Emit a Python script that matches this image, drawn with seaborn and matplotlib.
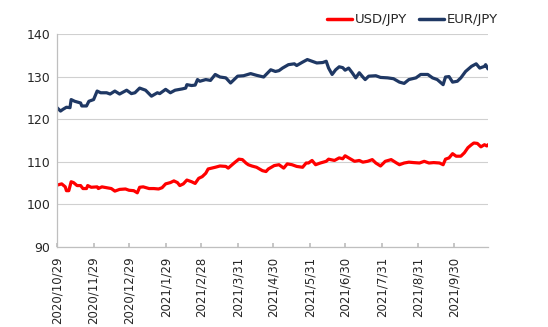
import matplotlib
matplotlib.use("Agg")
import matplotlib.pyplot as plt
import pandas as pd
import seaborn as sns
from matplotlib.lines import Line2D

eur_dates = ["2020-10-29","2020-11-01","2020-11-03","2020-11-06","2020-11-09","2020-11-10","2020-11-13","2020-11-18","2020-11-19","2020-11-23","2020-11-25","2020-11-29","2020-12-02","2020-12-05","2020-12-10","2020-12-13","2020-12-17","2020-12-21","2020-12-27","2020-12-31","2021-01-03","2021-01-07","2021-01-12","2021-01-17","2021-01-22","2021-01-24","2021-01-29","2021-02-02","2021-02-06","2021-02-12","2021-02-15","2021-02-16","2021-02-20","2021-02-23","2021-02-25","2021-02-27","2021-03-04","2021-03-08","2021-03-12","2021-03-16","2021-03-21","2021-03-25","2021-03-28","2021-03-31","2021-04-05","2021-04-11","2021-04-16","2021-04-22","2021-04-28","2021-05-02","2021-05-05","2021-05-08","2021-05-13","2021-05-18","2021-05-20","2021-05-25","2021-05-29","2021-06-02","2021-06-06","2021-06-11","2021-06-14","2021-06-16","2021-06-19","2021-06-22","2021-06-25","2021-06-28","2021-06-30","2021-07-03","2021-07-06","2021-07-09","2021-07-12","2021-07-15","2021-07-17","2021-07-20","2021-07-26","2021-07-30","2021-08-05","2021-08-10","2021-08-15","2021-08-19","2021-08-23","2021-08-29","2021-09-02","2021-09-08","2021-09-12","2021-09-16","2021-09-21","2021-09-23","2021-09-26","2021-09-29","2021-10-03","2021-10-06","2021-10-10","2021-10-15","2021-10-19","2021-10-22","2021-10-26","2021-10-27","2021-10-29"]
eur_values = [122.7,121.9,122.3,122.8,122.7,124.6,124.2,123.8,123.1,123.1,124.2,124.6,126.6,126.2,126.2,125.9,126.6,125.9,126.8,126.0,126.2,127.3,126.8,125.4,126.2,126.0,127.0,126.2,126.8,127.1,127.3,128.1,127.9,128.0,129.3,128.9,129.3,129.1,130.5,129.9,129.7,128.5,129.3,130.1,130.2,130.7,130.3,129.9,131.6,131.2,131.4,132.0,132.8,133.0,132.6,133.4,134.0,133.6,133.2,133.3,133.6,132.0,130.5,131.6,132.3,132.1,131.5,132.0,130.9,129.7,130.9,129.9,129.3,130.1,130.2,129.8,129.7,129.5,128.7,128.4,129.3,129.7,130.5,130.5,129.7,129.3,128.1,129.9,130.0,128.7,128.9,129.7,131.2,132.4,133.0,132.0,132.4,132.8,131.8]

usd_dates = ["2020-10-29","2020-11-02","2020-11-05","2020-11-06","2020-11-08","2020-11-10","2020-11-12","2020-11-15","2020-11-18","2020-11-20","2020-11-23","2020-11-24","2020-11-27","2020-12-02","2020-12-03","2020-12-06","2020-12-10","2020-12-14","2020-12-17","2020-12-21","2020-12-26","2020-12-29","2021-01-02","2021-01-05","2021-01-07","2021-01-10","2021-01-15","2021-01-19","2021-01-23","2021-01-26","2021-01-29","2021-02-02","2021-02-05","2021-02-08","2021-02-10","2021-02-13","2021-02-16","2021-02-20","2021-02-23","2021-02-26","2021-03-01","2021-03-04","2021-03-06","2021-03-09","2021-03-12","2021-03-16","2021-03-21","2021-03-23","2021-03-28","2021-04-01","2021-04-04","2021-04-07","2021-04-09","2021-04-12","2021-04-16","2021-04-21","2021-04-24","2021-04-26","2021-05-01","2021-05-05","2021-05-09","2021-05-12","2021-05-16","2021-05-20","2021-05-25","2021-05-28","2021-05-30","2021-06-02","2021-06-05","2021-06-09","2021-06-14","2021-06-16","2021-06-21","2021-06-25","2021-06-28","2021-06-30","2021-07-03","2021-07-08","2021-07-12","2021-07-15","2021-07-19","2021-07-23","2021-07-26","2021-07-30","2021-08-03","2021-08-08","2021-08-12","2021-08-15","2021-08-19","2021-08-23","2021-08-27","2021-09-01","2021-09-05","2021-09-09","2021-09-13","2021-09-18","2021-09-21","2021-09-23","2021-09-26","2021-09-29","2021-10-02","2021-10-06","2021-10-09","2021-10-12","2021-10-15","2021-10-17","2021-10-20","2021-10-23","2021-10-26","2021-10-28","2021-10-29"]
usd_values = [104.5,104.8,104.1,103.2,103.2,105.3,105.1,104.4,104.4,103.7,103.7,104.4,104.0,104.1,103.7,104.1,103.9,103.7,103.1,103.5,103.6,103.3,103.2,102.7,104.0,104.1,103.7,103.7,103.6,103.9,104.8,105.1,105.5,105.1,104.4,104.8,105.7,105.3,104.9,106.1,106.5,107.3,108.3,108.5,108.7,109.0,108.9,108.5,109.7,110.6,110.5,109.7,109.3,109.0,108.7,107.9,107.7,108.3,109.1,109.3,108.5,109.5,109.3,108.9,108.7,109.7,109.7,110.3,109.3,109.7,110.1,110.6,110.3,110.9,110.7,111.4,110.9,110.1,110.3,109.9,110.1,110.5,109.7,109.0,110.1,110.5,109.8,109.3,109.7,109.9,109.8,109.7,110.1,109.7,109.8,109.7,109.3,110.6,110.9,111.9,111.3,111.3,112.1,113.3,114.0,114.4,114.3,113.5,114.0,113.7,114.0]

tick_dates = ["2020-10-29","2020-11-29","2020-12-29","2021-01-29","2021-02-28","2021-03-31","2021-04-30","2021-05-31","2021-06-30","2021-07-31","2021-08-31","2021-09-30"]
tick_labels = ["2020/10/29","2020/11/29","2020/12/29","2021/1/29","2021/2/28","2021/3/31","2021/4/30","2021/5/31","2021/6/30","2021/7/31","2021/8/31","2021/9/30"]

series_names = ["USD/JPY", "EUR/JPY"]
colors = {"USD/JPY": "#FF0000", "EUR/JPY": "#1F3864"}

df = pd.concat([
    pd.DataFrame({"date": pd.to_datetime(usd_dates), "value": usd_values, "pair": "USD/JPY"}),
    pd.DataFrame({"date": pd.to_datetime(eur_dates), "value": eur_values, "pair": "EUR/JPY"}),
], ignore_index=True)

sns.set_theme(style="white")
plt.rcParams["font.family"] = ["DejaVu Sans"]

fig = plt.figure(figsize=(5.48, 3.27), dpi=100)
ax = fig.add_axes([0.104, 0.245, 0.7865, 0.651])

sns.lineplot(data=df, x="date", y="value", hue="pair", hue_order=series_names,
             palette=colors, linewidth=2.3, ax=ax, legend=False, estimator=None)

ax.set_ylim(90, 140)
ax.set_yticks([90, 100, 110, 120, 130, 140])
ax.set_xlim(pd.Timestamp("2020-10-29"), pd.Timestamp("2021-10-29"))
ax.set_xticks(pd.to_datetime(tick_dates))
ax.set_xticklabels(tick_labels, rotation=90)
ax.set_xlabel("")
ax.set_ylabel("")

ax.grid(axis="y", color="#d0d0d0", linewidth=0.8)
ax.grid(axis="x", visible=False)
for s in ["top", "right"]:
    ax.spines[s].set_visible(False)
for s in ["left", "bottom"]:
    ax.spines[s].set_color("#bfbfbf")
    ax.spines[s].set_linewidth(0.9)

ax.tick_params(axis="x", direction="in", length=3, color="#bfbfbf", bottom=True,
               labelsize=8.5, labelcolor="#262626", pad=7)
ax.tick_params(axis="y", length=0, labelsize=9, labelcolor="#262626", pad=5)

handles = [Line2D([0], [0], color=colors[n], linewidth=2.5) for n in series_names]
fig.legend(handles, series_names, loc="center", bbox_to_anchor=(0.752, 0.939), ncol=2,
           frameon=False, fontsize=9.5, handlelength=1.9, handletextpad=0.2,
           columnspacing=0.9, labelcolor="#262626")

fig.savefig("out.png", dpi=100)
